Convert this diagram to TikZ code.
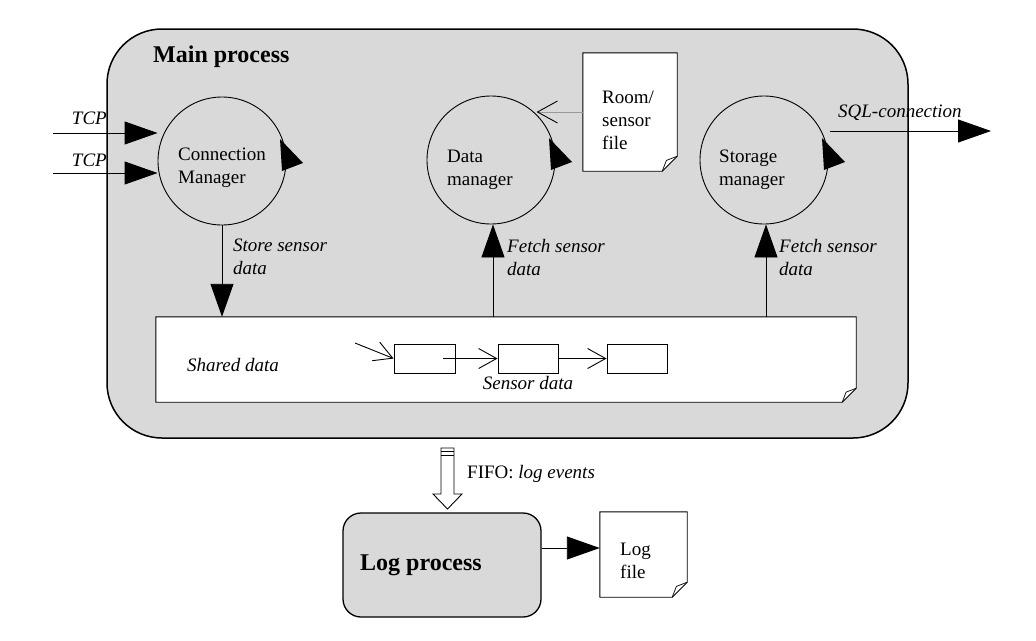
\documentclass[tikz,border=0pt]{standalone}
\usepackage{fontspec}
\setmainfont{Liberation Serif}
\usetikzlibrary{arrows.meta,calc}
\definecolor{procgray}{RGB}{217,217,217}
\tikzset{
  txt/.style={font=\fontsize{19}{23}\selectfont, inner sep=0pt, align=left},
  ttl/.style={font=\fontsize{24}{28}\selectfont\bfseries, inner sep=0pt},
  proc/.style={circle, draw=black, line width=0.9pt, minimum size=128pt, inner sep=0pt},
  box/.style={rectangle, inner sep=0pt},
  small/.style={rectangle, draw=black, line width=0.9pt, inner sep=0pt, minimum height=29pt, minimum width=60pt},
  bigarrow/.style={line width=0.9pt, -{Triangle[length=33pt,width=23pt]}},
  openarrow/.style={line width=0.9pt, -{Straight Barb[length=18pt,width=20pt,line width=0.9pt]}},
}
\newcommand\circtip[1]{\fill ([shift={(58,-22)}]#1.center) -- ([shift={(81,2)}]#1.center) -- ([shift={(60,10)}]#1.center) -- cycle;}
\newcommand\docoutline[2]{%
  \draw[fill=white, line width=0.9pt] (#1.north west) -- (#1.north east) -- ([yshift=#2]#1.south east) -- ([xshift=-#2]#1.south east) -- (#1.south west) -- cycle;
  \draw[line width=0.7pt] ([xshift=-#2]#1.south east) -- ([xshift=-0.72*#2,yshift=0.72*#2]#1.south east) -- ([yshift=#2]#1.south east);}
\begin{document}
\begin{tikzpicture}[x=1pt,y=-1pt]
\useasboundingbox (0,0) rectangle (1036,640);
\fill[white] (0,0) rectangle (1036,640);

% main process
\node[box, draw=black, line width=1.5pt, fill=procgray, rounded corners=55pt, minimum width=801pt, minimum height=409pt] (mp) at (507.5,233.5) {};
\node[ttl, anchor=west] (mpt) at (153,57) {Main process};

% processes
\node[proc] (cm) at (222,161) {};
\node[proc] (dm) at (491,160) {};
\node[proc] (sm) at (764,160) {};
\node[txt, anchor=west] (cmt) at (178,168) {Connection\\Manager};
\node[txt, anchor=west] (dmt) at (447,170) {Data\\manager};
\node[txt, anchor=west] (smt) at (719,170) {Storage\\manager};
\circtip{cm}
\circtip{dm}
\circtip{sm}

% TCP inputs
\coordinate (tcpa) at (53,133);
\coordinate (tcpb) at (53,173);
\draw[bigarrow] (tcpa) -- (tcpa -| cm.west);
\draw[bigarrow] (tcpb) -- (tcpb -| cm.west);
\node[txt, font=\fontsize{19}{23}\selectfont\itshape, anchor=east] (tcpal) at (107,118) {TCP};
\node[txt, font=\fontsize{19}{23}\selectfont\itshape, anchor=east] (tcpbl) at (107,160) {TCP};

% room / sensor file
\node[box, minimum width=94pt, minimum height=118pt] (rf) at (630,112) {};
\docoutline{rf}{15pt}
\node[txt, anchor=west] (rft) at (602,120) {Room/\\sensor\\file};
\draw[line width=0.9pt, draw=gray!80, -{Straight Barb[length=20pt,width=22pt,line width=0.9pt,color=black]}] (rf.west) -- (rf.west -| dm.north east);

% SQL connection
\coordinate (sqla) at (830,131);
\coordinate (sqlb) at (991,131);
\draw[bigarrow] (sqla) -- (sqlb);
\node[txt, font=\fontsize{19}{23}\selectfont\itshape, anchor=west] (sqll) at (838,113) {SQL-connection};

% shared data
\node[box, minimum width=700pt, minimum height=85pt] (sd) at (506,359.5) {};
\docoutline{sd}{14pt}
\node[txt, font=\fontsize{19}{23}\selectfont\itshape, anchor=west] (sdt) at (187,365) {Shared data};
\node[small, minimum width=61pt] (b1) at (424.5,358.5) {};
\node[small] (b2) at (528,358.5) {};
\node[small] (b3) at (637,358.5) {};
\coordinate (entry) at (355,343);
\draw[openarrow] (entry) -- (b1.west);
\draw[openarrow] ([xshift=-12pt]b1.east) -- (b2.west);
\draw[openarrow] (b2.east) -- (b3.west);
\node[txt, font=\fontsize{19}{23}\selectfont\itshape] (sdl) at (528,383) {Sensor data};

% store / fetch
\draw[bigarrow] (cm.south) -- (cm.south |- sd.north);
\node[txt, font=\fontsize{19}{23}\selectfont\itshape, anchor=north west] (stl) at (233,239) {Store sensor\\data};
\draw[bigarrow] ([xshift=2pt]dm.south |- sd.north) -- ([xshift=2pt]dm.south);
\node[txt, font=\fontsize{19}{23}\selectfont\itshape, anchor=north west] (fdl) at (507,239) {Fetch sensor\\data};
\draw[bigarrow] ([xshift=2pt]sm.south |- sd.north) -- ([xshift=2pt]sm.south);
\node[txt, font=\fontsize{19}{23}\selectfont\itshape, anchor=north west] (fsl) at (779,239) {Fetch sensor\\data};

% log process
\node[box, draw=black, line width=1.3pt, fill=procgray, rounded corners=18pt, minimum width=198pt, minimum height=104pt] (lp) at (442,565) {};
\node[ttl, anchor=west] (lpt) at (360,565) {Log process};
\node[box, minimum width=87pt, minimum height=85pt] (lf) at (643.5,554.5) {};
\docoutline{lf}{15pt}
\node[txt, anchor=west] (lft) at (620,561) {Log\\file};
\draw[bigarrow] ([yshift=17pt]lp.east) -- ([yshift=17pt]lp.east -| lf.west);

% FIFO block arrow
\coordinate (fifo) at (447.5,448);
\draw[line width=0.9pt, fill=white]
  ([shift={(-6.5,0)}]fifo) -- ([shift={(6.5,0)}]fifo) -- ([shift={(6.5,46)}]fifo) -- ([shift={(14.5,46)}]fifo)
  -- ([shift={(0,61)}]fifo) -- ([shift={(-14.5,46)}]fifo) -- ([shift={(-6.5,46)}]fifo) -- cycle;
\draw[line width=0.9pt] ([shift={(-6.5,3.5)}]fifo) -- ([shift={(6.5,3.5)}]fifo);
\draw[line width=0.9pt] ([shift={(-6.5,7)}]fifo) -- ([shift={(6.5,7)}]fifo);
\node[txt, anchor=west] (fifol) at (467,474) {FIFO: \textit{log events}};
\end{tikzpicture}
\end{document}
